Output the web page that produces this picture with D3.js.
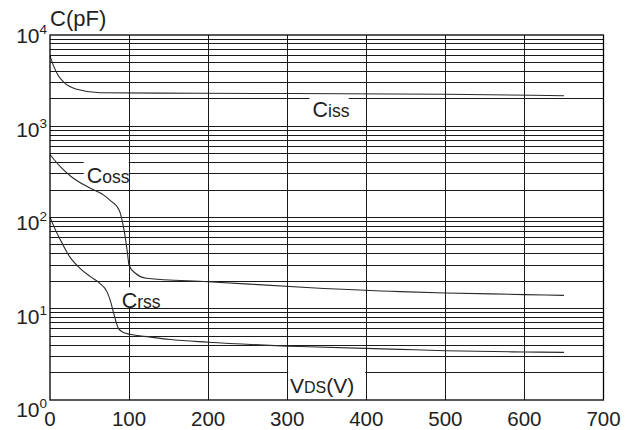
<!DOCTYPE html>
<html>
<head>
<meta charset="utf-8">
<script src="https://cdn.jsdelivr.net/npm/d3@7"></script>
<style>
  html, body { margin: 0; padding: 0; background: #fff; }
  svg { display: block; font-family: "Liberation Sans", Arial, sans-serif; }
</style>
</head>
<body>
<svg id="chart" width="630" height="430"></svg>
<script>
// Drain-source voltage (V) ticks and log decades of capacitance (pF)
const vdsTicks = [0, 100, 200, 300, 400, 500, 600, 700];
const decades = [0, 1, 2, 3, 4];

// Input capacitance
const cissV = [0, 4, 10, 18, 34, 63, 190, 500, 650];
const cissC = [5900, 4700, 3650, 3000, 2540, 2330, 2300, 2240, 2160];

// Output capacitance
const cossV = [0, 13, 27, 51, 68, 78, 85, 89, 92, 95, 98, 100, 108, 122, 200, 330, 443, 500, 600, 650];
const cossC = [490, 360, 280, 209, 176, 149, 131, 111, 86, 62, 40.5, 30, 24.5, 21.6, 19.8, 17, 15.4, 14.9, 14.3, 14.0];

// Reverse transfer capacitance
const crssV = [0, 6, 13, 25, 38, 51, 63, 72, 76, 80, 83.5, 86.5, 93, 101, 126, 152, 200, 316, 443, 500, 600, 650];
const crssC = [101, 76, 57, 37, 27.7, 22.5, 19, 15.4, 12.5, 9.3, 7.2, 6.1, 5.5, 5.25, 4.9, 4.6, 4.3, 3.86, 3.59, 3.47, 3.36, 3.33];

const svg = d3.select("#chart");
const x = d3.scaleLinear().domain([0, 700]).range([50, 603.5]);
const y = d3.scaleLog().domain([1, 1e4]).range([400, 35]);

const grid = svg.append("g")
  .attr("stroke", "#1a1a1a")
  .attr("stroke-width", 1)
  .attr("shape-rendering", "crispEdges");

// Horizontal grid: every 1..9 x 10^n line inside the plot
const hVals = [];
for (let e = 0; e < 4; e++) {
  for (let m = 1; m <= 9; m++) {
    const v = m * Math.pow(10, e);
    if (v > 1) hVals.push(v);
  }
}
grid.selectAll("line.h").data(hVals).join("line")
  .attr("class", "h")
  .attr("x1", x(0)).attr("x2", x(700))
  .attr("y1", d => y(d)).attr("y2", d => y(d));

// Curves
const line = d3.line().curve(d3.curveMonotoneX).x(d => x(d[0])).y(d => y(d[1]));
const series = [
  d3.zip(cissV, cissC),
  d3.zip(cossV, cossC),
  d3.zip(crssV, crssC)
];
svg.append("g").selectAll("path").data(series).join("path")
  .attr("d", line)
  .attr("fill", "none")
  .attr("stroke", "#2a2a2a")
  .attr("stroke-width", 1.1);

// Vertical grid
const vgrid = svg.append("g")
  .attr("stroke", "#1a1a1a")
  .attr("stroke-width", 1)
  .attr("shape-rendering", "crispEdges");
vgrid.selectAll("line").data(vdsTicks.slice(1, -1)).join("line")
  .attr("x1", d => x(d)).attr("x2", d => x(d))
  .attr("y1", y(1e4)).attr("y2", y(1));

// Curve labels with white backing boxes that stop at the text baseline
function capLabel(v, c, big, small) {
  const g = svg.append("g");
  const rect = g.append("rect").attr("fill", "#fff");
  const t = g.append("text")
    .attr("x", x(v)).attr("y", y(c))
    .attr("fill", "#222");
  t.append("tspan").attr("font-size", 21.5).text(big);
  t.append("tspan").attr("font-size", 17.5).text(small);
  const b = t.node().getBBox();
  rect.attr("x", b.x - 3).attr("y", b.y - 2)
      .attr("width", b.width + 2).attr("height", y(c) - 1 - (b.y - 2));
  return g;
}

capLabel(332, 1273, "C", "iss");
capLabel(46.4, 240, "C", "oss");
capLabel(90.7, 10.1, "C", "rss");

// Axis title for VDS sits in a box between the 300 V and 400 V lines
svg.append("rect")
  .attr("x", x(300) + 1).attr("y", y(2.6))
  .attr("width", x(400) - x(300) - 2).attr("height", y(1.07) - y(2.6))
  .attr("fill", "#fff");
const vt = svg.append("text")
  .attr("x", x(303.5)).attr("y", y(1.18))
  .attr("fill", "#222");
vt.append("tspan").attr("font-size", 21).text("V");
vt.append("tspan").attr("font-size", 16).text("DS");
vt.append("tspan").attr("font-size", 21).text("(V)");

// Plot frame
svg.append("rect")
  .attr("x", x(0)).attr("y", y(1e4))
  .attr("width", x(700) - x(0)).attr("height", y(1) - y(1e4))
  .attr("fill", "none")
  .attr("stroke", "#000")
  .attr("stroke-width", 1.3);

// X tick labels
svg.append("g").selectAll("text").data(vdsTicks).join("text")
  .attr("x", d => x(d)).attr("y", 425.5)
  .attr("text-anchor", "middle")
  .attr("font-size", 20.5)
  .attr("fill", "#222")
  .text(d => d);

// Y tick labels: 10 with the exponent raised
const yl = svg.append("g").attr("fill", "#222");
decades.forEach(e => {
  const base = y(Math.pow(10, e)) + 8 + (4 - e) * 2.3;
  yl.append("text")
    .attr("x", 39.5).attr("y", base)
    .attr("text-anchor", "end")
    .attr("font-size", 21)
    .text("10");
  yl.append("text")
    .attr("x", 39.5).attr("y", base - 9)
    .attr("font-size", 13.5)
    .text(e);
});

// Y axis unit
svg.append("text")
  .attr("x", 50).attr("y", 26)
  .attr("font-size", 22)
  .attr("fill", "#222")
  .text("C(pF)");
</script>
</body>
</html>
